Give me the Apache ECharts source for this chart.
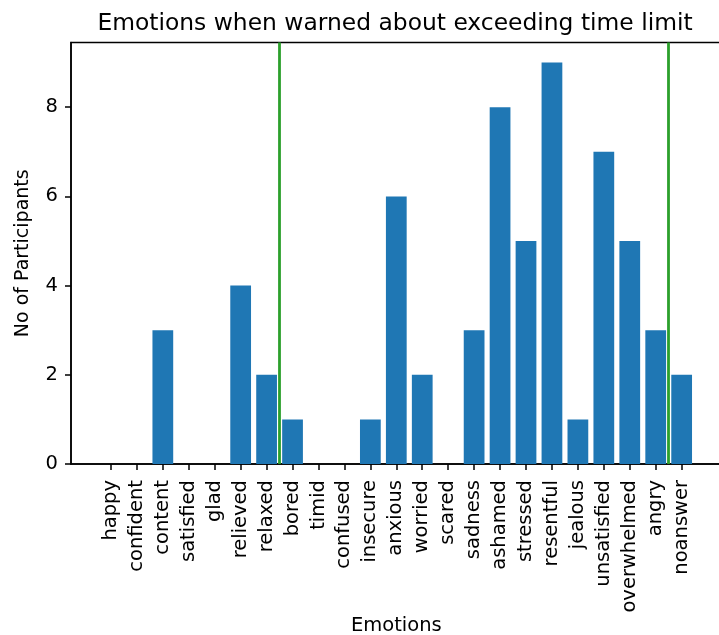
<!DOCTYPE html>
<html>
<head>
<meta charset="utf-8">
<script src="https://cdn.jsdelivr.net/npm/echarts@6/dist/echarts.min.js"></script>
<style>
  html, body { margin: 0; padding: 0; background: #fff; }
  #chart { width: 719px; height: 635px; }
</style>
</head>
<body>
<div id="chart"></div>
<script>
// emotions on the x axis, counts per emotion
var emotions = ['happy', 'confident', 'content', 'satisfied', 'glad', 'relieved', 'relaxed',
  'bored', 'timid', 'confused', 'insecure', 'anxious', 'worried', 'scared', 'sadness',
  'ashamed', 'stressed', 'resentful', 'jealous', 'unsatisfied', 'overwhelmed', 'angry', 'noanswer'];
var participants = [0, 0, 3, 0, 0, 4, 2, 1, 0, 0, 1, 6, 2, 0, 3, 8, 5, 9, 1, 7, 5, 3, 2];
// green separators sit between categories
var dividers = [6.5, 21.5];
var yTicks = [0, 2, 4, 6, 8];

var FONT = 'DejaVu Sans';
var xIdx = emotions.map(function (e, i) { return i; });

var chart = echarts.init(document.getElementById('chart'));
chart.setOption({
  animation: false,
  title: {
    text: 'Emotions when warned about exceeding time limit',
    left: 390,
    textAlign: 'center',
    top: 7,
    textStyle: { fontFamily: FONT, fontSize: 23.4, fontWeight: 'normal', color: '#000' }
  },
  grid: {
    left: 71, top: 42.5, width: 650.6, bottom: 171,
    outerBoundsMode: 'none', containLabel: false,
    show: true, borderColor: '#000', borderWidth: 1.5
  },
  xAxis: {
    type: 'value',
    min: -1.54,
    max: 23.54,
    name: 'Emotions',
    nameLocation: 'middle',
    nameGap: 152,
    nameMoveOverlap: false,
    nameTextStyle: { fontFamily: FONT, fontSize: 19.5, color: '#000' },
    splitLine: { show: false },
    axisLine: { show: true, onZero: false, lineStyle: { color: '#000', width: 1.5 } },
    axisTick: { show: true, length: 6, lineStyle: { color: '#000', width: 1.5 }, customValues: xIdx },
    axisLabel: {
      customValues: xIdx,
      rotate: 90,
      margin: 16,
      fontFamily: FONT, fontSize: 19.5, color: '#000',
      formatter: function (v) { return emotions[Math.round(v)]; }
    }
  },
  yAxis: {
    type: 'value',
    min: 0,
    max: 9.45,
    name: 'No of Participants',
    nameLocation: 'middle',
    nameGap: 38,
    nameMoveOverlap: false,
    nameTextStyle: { fontFamily: FONT, fontSize: 19, color: '#000' },
    splitLine: { show: false },
    axisLine: { show: true, onZero: false, lineStyle: { color: '#000', width: 1.5 } },
    axisTick: { show: true, length: 6, lineStyle: { color: '#000', width: 1.5 }, customValues: yTicks },
    axisLabel: { customValues: yTicks, margin: 13, fontFamily: FONT, fontSize: 19.5, color: '#000' }
  },
  series: [
    {
      type: 'bar',
      barWidth: 20.75,
      itemStyle: { color: '#1f77b4' },
      data: participants.map(function (v, i) { return [i, v]; }),
      markLine: {
        silent: true,
        symbol: ['none', 'none'],
        label: { show: false },
        lineStyle: { color: '#2ca02c', width: 2.8, type: 'solid' },
        data: dividers.map(function (d) { return { xAxis: d }; })
      }
    }
  ]
});
</script>
</body>
</html>
